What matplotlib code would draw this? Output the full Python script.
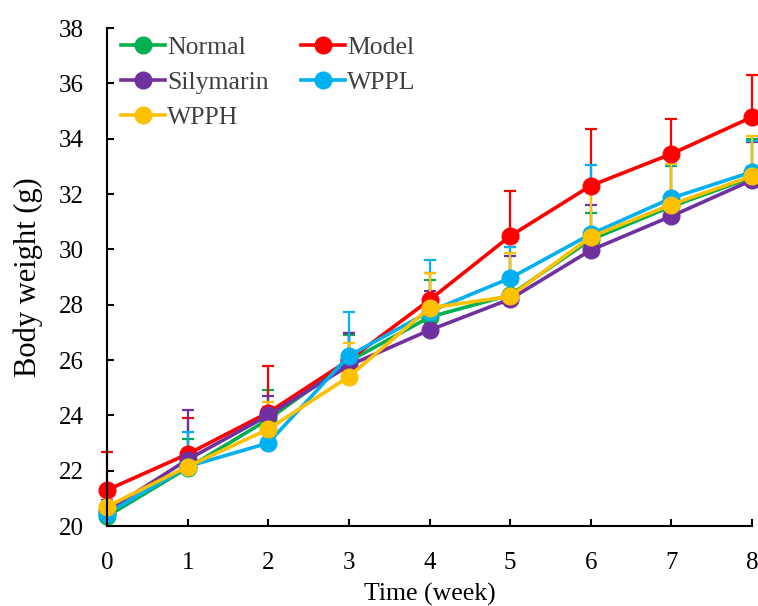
import matplotlib
matplotlib.use("Agg")
import matplotlib.pyplot as plt
from matplotlib.lines import Line2D
import numpy as np

weeks = [0, 1, 2, 3, 4, 5, 6, 7, 8]

normal = [20.35, 22.10, 23.85, 25.95, 27.55, 28.35, 30.35, 31.55, 32.60]
normal_err = [0.40, 1.05, 1.05, 0.95, 1.35, 1.73, 0.95, 1.45, 1.40]

model = [21.30, 22.60, 24.10, 26.00, 28.17, 30.48, 32.30, 33.45, 34.78]
model_err = [1.37, 1.30, 1.70, 0.97, 0.96, 1.62, 2.05, 1.25, 1.52]

silymarin = [20.55, 22.40, 24.00, 25.80, 27.08, 28.20, 29.97, 31.20, 32.50]
silymarin_err = [0.40, 1.80, 0.70, 1.17, 1.40, 1.56, 1.63, 1.85, 1.38]

wppl = [20.45, 22.15, 23.00, 26.15, 27.75, 28.96, 30.55, 31.85, 32.80]
wppl_err = [0.45, 1.25, 1.30, 1.58, 1.85, 1.14, 2.50, 1.20, 1.10]

wpph = [20.70, 22.15, 23.50, 25.40, 27.88, 28.30, 30.45, 31.62, 32.65]
wpph_err = [0.45, 0.65, 1.00, 1.20, 1.25, 1.55, 1.85, 1.46, 1.45]

names = ["Normal", "Model", "Silymarin", "WPPL", "WPPH"]
colors = ["#00B050", "#FF0000", "#7030A0", "#00B0F0", "#FFC000"]
series = [normal, model, silymarin, wppl, wpph]
errors = [normal_err, model_err, silymarin_err, wppl_err, wpph_err]

plt.rcParams['font.family'] = ['Liberation Serif', 'DejaVu Serif']

fig = plt.figure(figsize=(7.58, 6.06), dpi=100)
ax = fig.add_axes([107/758, 80/606, (752-107)/758, (526-28)/606])

handles = {}
for name, c, y, e in zip(names, colors, series, errors):
    ax.errorbar(weeks, y, yerr=[np.zeros(len(e)), e], color=c, lw=2.6,
                marker='o', markersize=12, elinewidth=1.6, capsize=4,
                capthick=1.6, clip_on=False)
    handles[name] = Line2D([], [], color=c, lw=2.6, marker='o', markersize=12)

ax.set_xlim(0, 8)
ax.set_ylim(20, 38)
ax.set_xticks(weeks)
ax.set_yticks(np.arange(20, 39, 2))
for s in ['top', 'right']:
    ax.spines[s].set_visible(False)
for s in ['left', 'bottom']:
    ax.spines[s].set_linewidth(1.5)
ax.tick_params(axis='both', direction='in', length=5, width=1.5, labelsize=18)
ax.tick_params(axis='y', pad=17)
ax.tick_params(axis='x', pad=19)
ax.set_xlabel("Time (week)", fontsize=18.5, labelpad=6)
ax.set_ylabel("Body weight (g)", fontsize=22, labelpad=11)

order = ["Normal", "Silymarin", "WPPH", "Model", "WPPL"]
leg = ax.legend([handles[n] for n in order], order, loc='upper left',
                bbox_to_anchor=(0.0, 1.012), ncol=2,
                frameon=False, fontsize=18.5, handlelength=1.7,
                handletextpad=0.1, columnspacing=1.25, labelspacing=0.46,
                borderaxespad=0.15)
for t in leg.get_texts():
    t.set_color('#404040')

fig.savefig("out.png", dpi=100)
